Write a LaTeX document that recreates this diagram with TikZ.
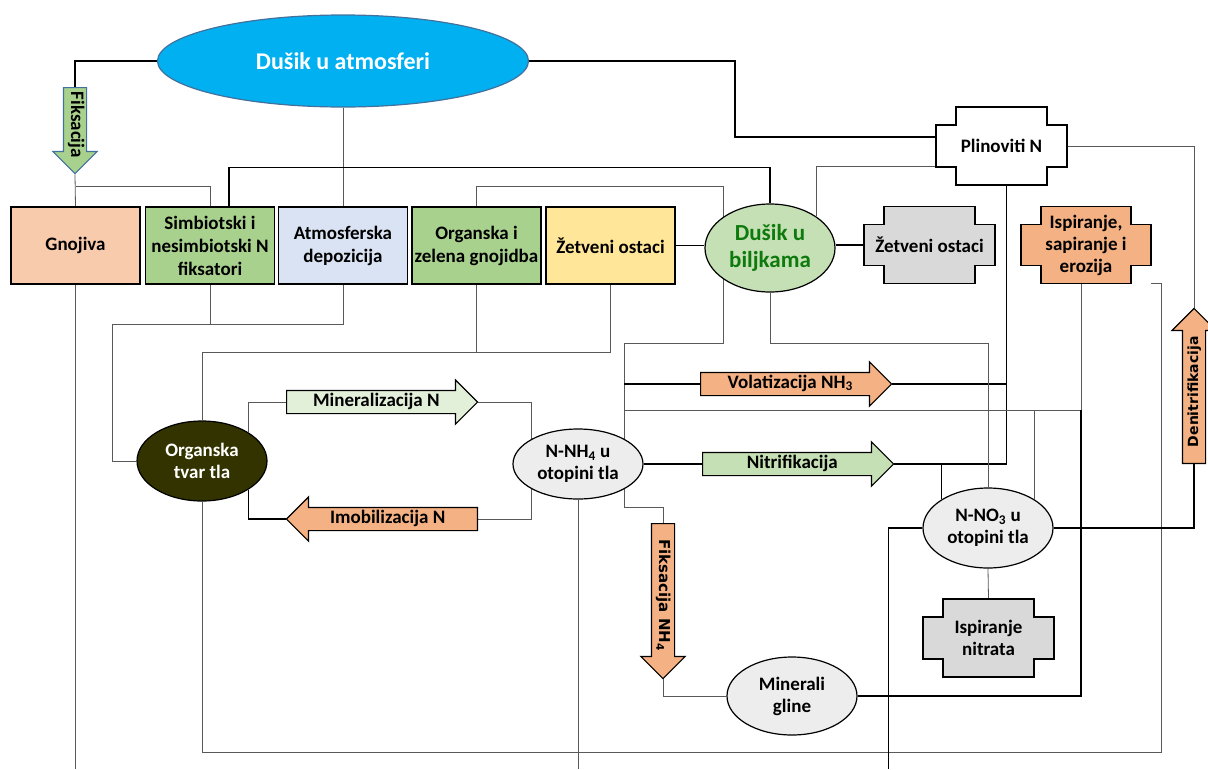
\documentclass[tikz,border=0pt]{standalone}
\usepackage{fontspec}
\setmainfont{Carlito}
\newfontfamily\wide{DejaVu Sans}
\usetikzlibrary{shapes.geometric,shapes.arrows,backgrounds}
\definecolor{sky}{HTML}{00B0F0}
\definecolor{atmoline}{HTML}{41719C}
\definecolor{peach}{HTML}{F8CBAD}
\definecolor{leaf}{HTML}{A9D18E}
\definecolor{mist}{HTML}{DAE3F3}
\definecolor{straw}{HTML}{FFE699}
\definecolor{sprout}{HTML}{C5E0B4}
\definecolor{mint}{HTML}{E2F0D9}
\definecolor{salmon}{HTML}{F4B183}
\definecolor{greyish}{HTML}{D9D9D9}
\definecolor{soil}{HTML}{EDEDED}
\definecolor{humus}{HTML}{333300}
\definecolor{bilgreen}{HTML}{0E7A0E}
\newcommand\plusbox[5]{\draw[line width=1.4pt, fill=#5] (#1-#3+20,#2-#4) -- (#1+#3-20,#2-#4) -- (#1+#3-20,#2-#4+18) -- (#1+#3,#2-#4+18) -- (#1+#3,#2+#4-18) -- (#1+#3-20,#2+#4-18) -- (#1+#3-20,#2+#4) -- (#1-#3+20,#2+#4) -- (#1-#3+20,#2+#4-18) -- (#1-#3,#2+#4-18) -- (#1-#3,#2-#4+18) -- (#1-#3+20,#2-#4+18) -- cycle;}

\begin{document}
\begin{tikzpicture}[x=1pt, y=-1pt,
  box/.style={draw, line width=1.4pt, minimum width=129pt, minimum height=77pt, inner sep=0pt, align=center, font=\fontsize{19}{23}\selectfont\bfseries},
  blob/.style={ellipse, draw, line width=1.2pt, minimum width=130pt, minimum height=78pt, inner sep=0pt, align=center, fill=soil, font=\fontsize{19}{22}\selectfont\bfseries},
  flow/.style={single arrow, draw, line width=1.2pt, single arrow head extend=10.5pt, minimum height=191pt, text height=13pt, text depth=5pt, inner ysep=2pt, anchor=tail, font=\fontsize{19}{21}\selectfont\bfseries},
  plusnode/.style={minimum width=131pt, minimum height=78pt, inner sep=0pt, align=center, font=\fontsize{19}{22}\selectfont\bfseries},
  pipe/.style={line width=1.6pt},
  conn/.style={line width=0.8pt, black!65}]
\useasboundingbox (0,0) rectangle (1208,769);
\node[ellipse, draw=atmoline, line width=1.2pt, fill=sky, minimum width=371pt, minimum height=92pt, text=white, font=\fontsize{24}{28}\selectfont\bfseries] (atmo) at (343,61) {Dušik u atmosferi};
\node[flow, fill=leaf, draw=atmoline, rotate=-90, minimum height=86pt, inner xsep=0pt] (fiks) at (75,87) {Fiksacija};
\node[box, fill=peach] (gn) at (75.5,245.5) {Gnojiva};
\node[box, fill=leaf] (sim) at (210,245.5) {Simbiotski i\\nesimbiotski N\\fiksatori};
\node[box, fill=mist] (atm) at (343,245.5) {Atmosferska\\depozicija};
\node[box, fill=leaf] (orgz) at (476.5,245.5) {Organska i\\zelena gnojidba};
\node[box, fill=straw] (zet) at (610.5,245.5) {Žetveni ostaci};
\node[blob, fill=sprout, minimum height=88pt, text=bilgreen, font=\fontsize{23}{27}\selectfont\bfseries] (bilj) at (770,248) {Dušik u\\biljkama};
\plusbox{1001.5}{146}{65.5}{39}{white}
\plusbox{929.5}{245}{65.5}{38.5}{greyish}
\plusbox{1086}{245}{65}{38.5}{salmon}
\plusbox{988.5}{638}{65.5}{39}{greyish}
\node[plusnode] (plin) at (1001.5,146) {Plinoviti N};
\node[plusnode, minimum height=77pt] (zo) at (929.5,245) {Žetveni ostaci};
\node[plusnode, minimum width=130pt, minimum height=77pt] (isp) at (1086,245) {Ispiranje,\\sapiranje i\\erozija};
\node[plusnode] (ispn) at (988.5,638) {Ispiranje\\nitrata};
\node[blob, fill=humus, minimum height=80pt, text=white] (otl) at (202,461) {Organska\\tvar tla};
\node[blob, minimum height=70pt] (nnh) at (578,464) {N-NH\textsubscript{4} u\\otopini tla};
\node[blob, minimum height=80pt] (nno) at (988,528) {N-NO\textsubscript{3} u\\otopini tla};
\node[blob] (mg) at (792,696) {Minerali\\gline};
\node[flow, fill=mint] (mineral) at (286,402) {Mineralizacija N};
\node[flow, fill=salmon, shape border rotate=180] (imob) at (478,519) {Imobilizacija N};
\node[flow, fill=salmon] (volat) at (700,384) {Volatizacija NH\textsubscript{3}};
\node[flow, fill=sprout] (nitri) at (702,464) {Nitrifikacija};
\node[flow, fill=salmon, rotate=-90, minimum height=155pt, font=\wide\fontsize{15}{17}\selectfont\bfseries] (fnh) at (663,523) {Fiksacija NH\textsubscript{4}};
\node[flow, fill=salmon, rotate=90, minimum height=155pt, font=\wide\fontsize{14}{16}\selectfont\bfseries] (denit) at (1194,464) {Denitrifikacija};
\coordinate (bot) at (0,769);
\coordinate (busA) at (723,343);
\coordinate (busB) at (624,507);
\coordinate (busC) at (624,410);
\coordinate (plindrop) at ([xshift=5pt]plin.south);
\coordinate (ispdrop) at ([xshift=-5pt]isp.south);
\coordinate (nnodrop) at ([xshift=-34pt]nno.west);
\begin{scope}[on background layer]
\draw[pipe] (atmo.west) -| (fiks.tail);
\draw[pipe] (atmo.east) -- ++(206,0) |- ([yshift=9pt]plin.west);
\draw[conn] (fiks.tip) -- (gn.north);
\draw[conn] ([yshift=20pt]gn.north) -| (sim.north);
\draw[conn] (atmo.south) -- (atm.north);
\draw[pipe] (bilj.north) -- ++(0,-36) -| ([xshift=19pt]sim.north);
\draw[conn] (orgz.north) -- ++(0,-20) -| (busA) -| (busB) -| (fnh.tail);
\draw[pipe] (zet.east) -- (zet.east -| bilj.west);
\draw[pipe] (bilj.east |- zo.west) -- (zo.west);
\draw[conn] ([yshift=19pt]plin.south west) -| (bilj.north east);
\draw[conn] (plin.east) -| (denit.tip);
\draw[pipe] (plindrop) |- (nitri.tip);
\draw[pipe] (volat.tip) -- (volat.tip -| plindrop);
\draw[pipe] (volat.tail) -- (volat.tail -| busB);
\draw[conn] (busC) -| (ispdrop);
\draw[conn] (nno.north east) -- (nno.north east |- busC);
\draw[pipe] (ispdrop |- busC) |- (mg.east);
\draw[conn] (isp.south east) -- ++(10,0) -- ++(0,469) -| (otl.south);
\draw[conn] (zet.south) -- ++(0,68) -| (otl.north);
\draw[conn] (orgz.south) -- ++(0,68);
\draw[conn] (atm.south) -- ++(0,40) -| ([xshift=-24pt]otl.west) -- (otl.west);
\draw[conn] (sim.south) -- ++(0,40);
\draw[conn] (gn.south) -- (gn.south |- bot);
\draw[conn] (otl.north east) |- (mineral.tail);
\draw[conn] (mineral.tip) -| (nnh.north west);
\draw[conn] (nnh.south west) |- (imob.tail);
\draw[pipe] (imob.tip) -| (otl.south east);
\draw[pipe] (nnh.east) -- (nitri.tail);
\draw[pipe] (nno.north west) |- (nitri.tip);
\draw[conn] (bilj.south) -- ++(0,51) -| (nno.north);
\draw[pipe] (nno.east) -| (denit.tail);
\draw[pipe] (nno.west) -| (nnodrop |- bot);
\draw[conn] (nno.south) -- (ispn.north);
\draw[conn] (nnh.south) -- (nnh.south |- bot);
\draw[conn] (fnh.tip) |- (mg.west);
\end{scope}
\end{tikzpicture}
\end{document}
